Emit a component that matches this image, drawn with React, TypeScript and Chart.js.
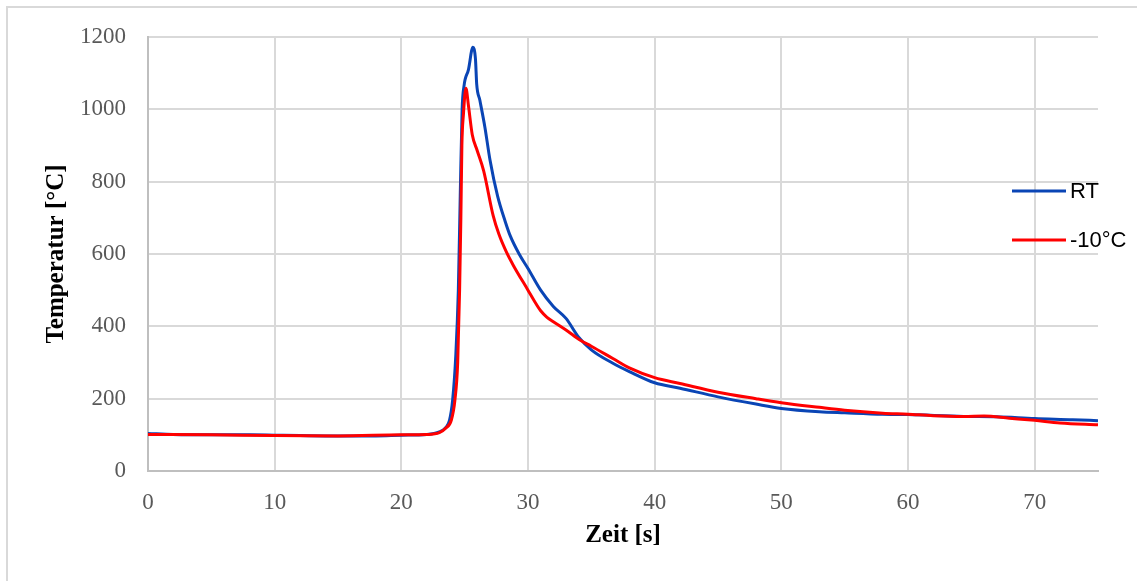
import React, { useEffect, useRef } from "react";
import { Chart, registerables } from "chart.js";

Chart.register(...registerables);

// Zeit [s] and Temperatur [°C]
const rtTime = [0, 2, 5, 8, 10, 12, 15, 18, 20, 22, 23, 23.5, 23.8, 24.05, 24.3, 24.5, 24.65, 24.8, 24.95, 25.3, 25.65, 25.85, 25.95, 26.2, 26.6, 27, 27.6, 28.2, 28.6, 29.3, 30, 31, 32, 33, 34, 35, 36.7, 38, 40, 42, 45, 48, 50, 53, 55, 58, 60, 64.4, 67, 70, 73, 75];
const rtTemp = [104, 101, 100, 100, 99, 98, 97, 97, 99, 101, 108, 120, 140, 196, 320, 500, 760, 1000, 1065, 1110, 1172, 1140, 1070, 1025, 950, 860, 760, 690, 650, 600, 560, 500, 455, 422, 370, 335, 298, 275, 244, 229, 205, 185, 173, 164, 161, 157, 156, 151, 150, 145, 142, 139];

const coldTime = [0, 5, 10, 15, 20, 22, 23, 23.5, 23.95, 24.23, 24.45, 24.6, 24.7, 24.78, 24.9, 25.1, 25.3, 25.6, 26, 26.5, 27.25, 27.7, 28.3, 28.9, 30, 30.5, 31, 31.5, 32, 33, 34.1, 35, 36.7, 38, 40, 42, 45, 48, 50, 53, 55, 58, 60, 62, 64.4, 66, 68, 70, 72, 75];
const coldTemp = [101, 100, 98, 97, 100, 101, 106, 118, 141, 196, 300, 500, 700, 900, 985, 1058, 1010, 930, 885, 830, 706, 655, 605, 565, 500, 470, 443, 425, 413, 390, 362, 345, 311, 285, 258, 242, 218, 200, 189, 176, 168, 160, 157, 153, 151, 152, 146, 140, 133, 128];

const seriesLabels = ["RT", "-10°C"];
const seriesColors = ["#0A45B5", "#FF0000"];

const xMin = 0;
const xMax = 75;
const xStep = 10;
const yMin = 0;
const yMax = 1200;
const yStep = 200;

const serif = "'Liberation Serif', 'Times New Roman', serif";

const sideLegend = {
  id: "sideLegend",
  afterDraw(chart: any) {
    const ctx = chart.ctx;
    ctx.save();
    chart.data.datasets.forEach((ds: any, i: number) => {
      const y = 191 + i * 49;
      ctx.strokeStyle = ds.borderColor;
      ctx.lineWidth = 3;
      ctx.beginPath();
      ctx.moveTo(1012, y);
      ctx.lineTo(1066, y);
      ctx.stroke();
      ctx.fillStyle = "#000000";
      ctx.font = "22px 'Liberation Sans', Arial, sans-serif";
      ctx.textAlign = "left";
      ctx.textBaseline = "middle";
      ctx.fillText(ds.label, 1070, y + 1);
    });
    ctx.restore();
  },
};

export default function App() {
  const ref = useRef<HTMLCanvasElement>(null);

  useEffect(() => {
    if (!ref.current) return;
    const rtPoints = rtTime.map((x, i) => ({ x, y: rtTemp[i] }));
    const coldPoints = coldTime.map((x, i) => ({ x, y: coldTemp[i] }));
    const chart = new Chart(ref.current, {
      type: "line",
      data: {
        datasets: [
          {
            label: seriesLabels[0],
            data: rtPoints,
            borderColor: seriesColors[0],
            backgroundColor: seriesColors[0],
            borderWidth: 3,
            pointRadius: 0,
            cubicInterpolationMode: "monotone",
            order: 2,
          },
          {
            label: seriesLabels[1],
            data: coldPoints,
            borderColor: seriesColors[1],
            backgroundColor: seriesColors[1],
            borderWidth: 3,
            pointRadius: 0,
            cubicInterpolationMode: "monotone",
            order: 1,
          },
        ],
      },
      options: {
        responsive: false,
        animation: false,
        layout: { padding: { top: 37, right: 39, bottom: 0, left: 0 } },
        plugins: {
          legend: { display: false },
          tooltip: { enabled: false },
        },
        scales: {
          x: {
            type: "linear",
            min: xMin,
            max: xMax,
            afterFit: (s: any) => {
              s.height = 110;
            },
            ticks: {
              stepSize: xStep,
              includeBounds: false,
              padding: 18,
              maxRotation: 0,
              color: "#595959",
              font: { family: serif, size: 23 },
              callback: (v: any) => String(v),
            },
            grid: { color: "#d9d9d9", lineWidth: 2, drawTicks: false },
            border: { color: "#bfbfbf", width: 2 },
            title: {
              display: true,
              text: "Zeit [s]",
              color: "#000000",
              font: { family: serif, size: 25, weight: "bold" },
              padding: { top: 0, bottom: 30 },
            },
          },
          y: {
            type: "linear",
            min: yMin,
            max: yMax,
            afterFit: (s: any) => {
              s.width = 148;
            },
            ticks: {
              stepSize: yStep,
              padding: 22,
              color: "#595959",
              font: { family: serif, size: 23 },
              callback: (v: any) => String(v),
            },
            grid: { color: "#d9d9d9", lineWidth: 2, drawTicks: false },
            border: { color: "#bfbfbf", width: 2 },
            title: {
              display: true,
              text: "Temperatur [°C]",
              color: "#000000",
              font: { family: serif, size: 25, weight: "bold" },
              padding: { top: 42, bottom: 0 },
            },
          },
        },
      } as any,
      plugins: [sideLegend],
    });
    return () => chart.destroy();
  }, []);

  return (
    <div
      style={{
        position: "absolute",
        left: 0,
        top: 0,
        width: 1137,
        height: 581,
        overflow: "hidden",
        background: "#ffffff",
      }}
    >
      <div
        style={{
          position: "absolute",
          left: 6,
          top: 6,
          width: 1200,
          height: 700,
          border: "2px solid #d9d9d9",
          boxSizing: "border-box",
        }}
      />
      <canvas
        ref={ref}
        width={1137}
        height={581}
        style={{ position: "absolute", left: 0, top: 0 }}
      />
    </div>
  );
}
